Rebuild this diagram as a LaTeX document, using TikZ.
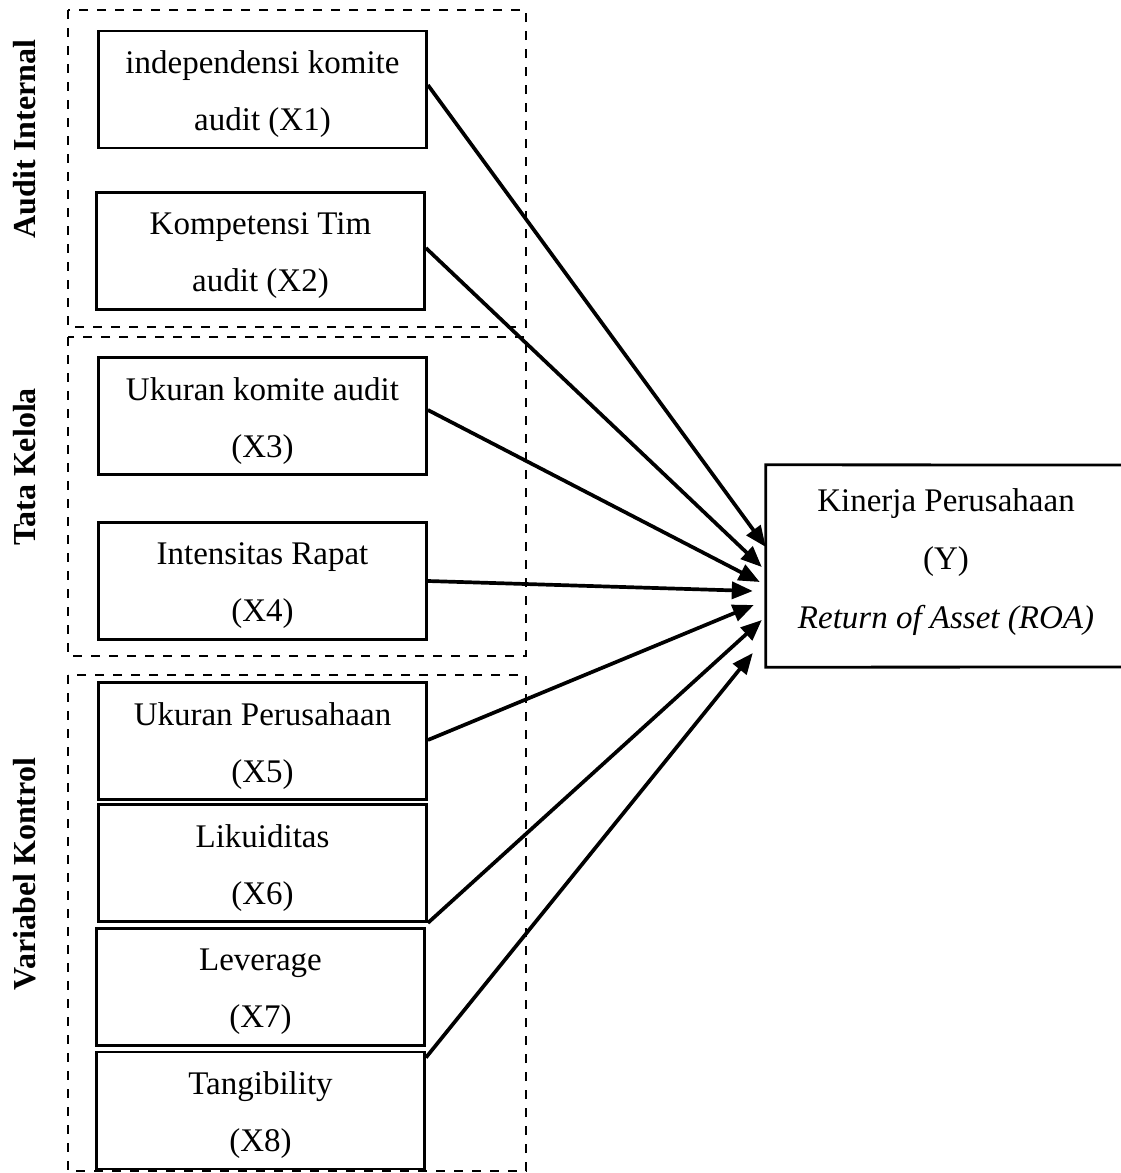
\documentclass[tikz,border=0pt]{standalone}
\usepackage{fontspec}
\setmainfont{Liberation Serif}
\usetikzlibrary{arrows.meta,calc}
\newcommand\lowr[1]{\raisebox{-5pt}[\height][\depth]{#1}}
\begin{document}
\begin{tikzpicture}[x=1pt,y=-1pt,
  varbox/.style={draw, line width=2.8pt, minimum width=328pt, minimum height=117pt, align=center, inner sep=0pt, font=\fontsize{33}{57}\selectfont},
  groupbox/.style={draw, line width=2.7pt, dash pattern=on 9pt off 9pt},
  grouplabel/.style={rotate=90, inner sep=0pt, font=\fontsize{32}{38}\selectfont\bfseries},
  arr/.style={line width=3.7pt, -{Triangle[length=21pt,width=17pt]}}]
\useasboundingbox (0,0) rectangle (1121,1173);
% group frames
\draw[groupbox] (68,10) rectangle (526,327);
\draw[groupbox] (68,337) rectangle (526,656);
\draw[groupbox] (68,675) rectangle (526,1171);
% group labels
\node[grouplabel] (gA) at (25,139) {Audit Internal};
\node[grouplabel] (gB) at (25,467) {Tata Kelola};
\node[grouplabel] (gC) at (25,874) {Variabel Kontrol};
% variable boxes
\node[varbox] (X1) at (262.5,89.5) {\lowr{independensi komite}\\\lowr{audit (X1)}};
\node[varbox] (X2) at (260.5,251) {\lowr{Kompetensi Tim}\\\lowr{audit (X2)}};
\node[varbox] (X3) at (262.5,416) {\lowr{Ukuran komite audit}\\\lowr{(X3)}};
\node[varbox] (X4) at (262.5,581) {\lowr{Intensitas Rapat}\\\lowr{(X4)}};
\node[varbox] (X5) at (262.5,741) {\lowr{Ukuran Perusahaan}\\\lowr{(X5)}};
\node[varbox] (X6) at (262.5,863) {\lowr{Likuiditas}\\\lowr{(X6)}};
\node[varbox] (X7) at (260.5,987) {\lowr{Leverage}\\\lowr{(X7)}};
\node[varbox] (X8) at (260.5,1110.5) {\lowr{Tangibility}\\\lowr{(X8)}};
% dependent variable
\node[minimum width=360pt, minimum height=202pt, inner sep=0pt] (Y) at (946,566) {};
\draw[line width=2.8pt] (1121,465) -- (Y.north west) -- (Y.south west) -- (1121,667);
\node[align=center, inner sep=0pt, font=\fontsize{33}{58.5}\selectfont] (Yt) at (946,562)
  {Kinerja Perusahaan\\(Y)\\\textit{Return of Asset (ROA)}};
% arrows
\draw[arr] ([yshift=4.5pt]X1.east) -- ([yshift=19pt]Y.west);
\draw[arr] ([yshift=3pt]X2.east) -- ([xshift=-4pt,yshift=-1pt]Y.west);
\draw[arr] ([yshift=6pt]X3.east) -- ([xshift=-6pt,yshift=-16pt]Y.west);
\draw[arr] (X4.east) -- ([xshift=-13pt,yshift=-25pt]Y.west);
\draw[arr] ([yshift=1pt]X5.east) -- ([xshift=-12pt,yshift=-39pt]Y.west);
\draw[arr] (X6.south east) -- ([xshift=-4pt,yshift=-54pt]Y.west);
\draw[arr] ([yshift=-7pt]X8.north east) -- ([xshift=-13pt,yshift=-87pt]Y.west);
\end{tikzpicture}
\end{document}
